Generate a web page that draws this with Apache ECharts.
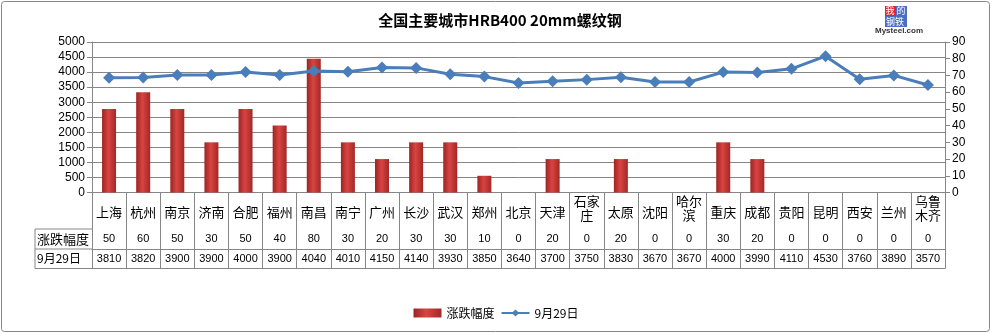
<!DOCTYPE html>
<html>
<head>
<meta charset="utf-8">
<script src="https://cdn.jsdelivr.net/npm/echarts@6/dist/echarts.min.js"></script>
<style>html,body{margin:0;padding:0;background:#fff}#c{width:992px;height:334px}</style>
</head>
<body>
<div id="c"></div>
<script>
var titleText = '全国主要城市HRB400 20mm螺纹钢';
var cities = ['上海','杭州','南京','济南','合肥','福州','南昌','南宁','广州','长沙','武汉','郑州','北京','天津','石家庄','太原','沈阳','哈尔滨','重庆','成都','贵阳','昆明','西安','兰州','乌鲁木齐'];
var changes = [50,60,50,30,50,40,80,30,20,30,30,10,0,20,0,20,0,0,30,20,0,0,0,0,0];
var prices = [3810,3820,3900,3900,4000,3900,4040,4010,4150,4140,3930,3850,3640,3700,3750,3830,3670,3670,4000,3990,4110,4530,3760,3890,3570];
var seriesNames = ['涨跌幅度','9月29日'];
var leftTicks = {min:0, max:5000, interval:500};
var rightTicks = {min:0, max:90, interval:10};

var gridCol = '#868686';
var numFont = 'Liberation Sans';
var cjk = 'Noto Sans CJK SC';

function cityLabel(v){
  if (v.length <= 2) return '{s|' + v + '}';
  var parts = [];
  for (var i = 0; i < v.length; i += 2) parts.push('{t|' + v.slice(i, i+2) + '}');
  return parts.join('\n');
}

var chart = echarts.init(document.getElementById('c'), null, {renderer:'canvas'});
var L = 92, R = 945, T = 42, B = 192.5;
chart.setOption({
  animation:false,
  title:{text:titleText, left:495, textAlign:'center', top:8,
    textStyle:{fontFamily:cjk, fontSize:15, fontWeight:'bold', color:'#000'}},
  legend:{bottom:10, left:'center', itemWidth:28, itemHeight:9, itemGap:6,
    textStyle:{fontFamily:cjk, fontSize:12, color:'#000'},
    data:[{name:seriesNames[0], icon:'rect'},{name:seriesNames[1]}]},
  grid:{left:L, right:992-R, top:T, bottom:334-B, containLabel:false},
  xAxis:[
    {type:'category', data:cities, position:'bottom',
      axisLine:{lineStyle:{color:gridCol, width:1}},
      axisTick:{show:true, length:76, lineStyle:{color:gridCol}},
      axisLabel:{interval:0, margin:2, verticalAlign:'top', formatter:cityLabel,
        rich:{s:{fontFamily:cjk, fontSize:13, lineHeight:35, color:'#000'},
              t:{fontFamily:cjk, fontSize:13, lineHeight:14, color:'#000'}}}},
    {type:'category', data:changes.map(String), position:'bottom', offset:36.5,
      axisLine:{lineStyle:{color:gridCol}}, axisTick:{show:false},
      axisLabel:{interval:0, margin:4, fontFamily:numFont, fontSize:11, lineHeight:12, color:'#000'}},
    {type:'category', data:prices.map(String), position:'bottom', offset:56.5,
      axisLine:{lineStyle:{color:gridCol}}, axisTick:{show:false},
      axisLabel:{interval:0, margin:4, fontFamily:numFont, fontSize:11, lineHeight:12, color:'#000'}},
    {type:'category', data:cities, position:'bottom', offset:76,
      axisLine:{lineStyle:{color:gridCol}}, axisTick:{show:false}, axisLabel:{show:false}}
  ],
  yAxis:[
    {type:'value', min:leftTicks.min, max:leftTicks.max, interval:leftTicks.interval, position:'left',
      axisLine:{show:true, lineStyle:{color:gridCol}},
      axisTick:{show:true, length:5, lineStyle:{color:gridCol}},
      splitLine:{lineStyle:{color:gridCol}},
      axisLabel:{margin:7, fontFamily:numFont, fontSize:12, color:'#000', formatter:function(v){return String(v);}}},
    {type:'value', min:rightTicks.min, max:rightTicks.max, interval:rightTicks.interval, position:'right',
      axisLine:{show:true, lineStyle:{color:gridCol}},
      axisTick:{show:true, length:5, lineStyle:{color:gridCol}},
      splitLine:{show:false},
      axisLabel:{margin:7, fontFamily:numFont, fontSize:12, color:'#000', formatter:function(v){return String(v);}}}
  ],
  series:[
    {name:seriesNames[0], type:'bar', xAxisIndex:0, yAxisIndex:1, data:changes, barWidth:14,
      itemStyle:{color:new echarts.graphic.LinearGradient(0,0,1,0,[
        {offset:0,color:'#9c2424'},{offset:0.45,color:'#d94441'},{offset:1,color:'#a22828'}])}},
    {name:seriesNames[1], type:'line', xAxisIndex:0, yAxisIndex:0, data:prices,
      symbol:'diamond', symbolSize:12, lineStyle:{color:'#4a7ebb', width:3},
      itemStyle:{color:'#4a7ebb'}}
  ],
  graphic:[
    {type:'rect', shape:{x:1.5, y:1.5, width:988, height:330, r:3}, style:{fill:'none', stroke:gridCol, lineWidth:1}},
    {type:'line', shape:{x1:35, y1:229, x2:L, y2:229}, style:{stroke:gridCol, lineWidth:1}},
    {type:'line', shape:{x1:35, y1:249, x2:L, y2:249}, style:{stroke:gridCol, lineWidth:1}},
    {type:'line', shape:{x1:35, y1:268.5, x2:L, y2:268.5}, style:{stroke:gridCol, lineWidth:1}},
    {type:'line', shape:{x1:35, y1:229, x2:35, y2:268.5}, style:{stroke:gridCol, lineWidth:1}},
    {type:'text', x:37, y:239, style:{text:seriesNames[0], fontFamily:cjk, fontSize:13, fill:'#000', textVerticalAlign:'middle'}},
    {type:'text', x:37, y:258.5, style:{text:seriesNames[1], fontFamily:cjk, fontSize:12, fill:'#000', textVerticalAlign:'middle'}},
    {type:'rect', shape:{x:885, y:6, width:11, height:10}, style:{fill:'#e0262b'}},
    {type:'rect', shape:{x:896, y:6, width:11, height:10}, style:{fill:'#4a6fc4'}},
    {type:'rect', shape:{x:885, y:16, width:22, height:11}, style:{fill:'#4a6fc4'}},
    {type:'text', x:885.5, y:11, style:{text:'我', fontFamily:cjk, fontSize:9, fill:'#fff', textVerticalAlign:'middle'}},
    {type:'text', x:896.5, y:11, style:{text:'的', fontFamily:cjk, fontSize:9, fill:'#fff', textVerticalAlign:'middle'}},
    {type:'text', x:886, y:21.5, style:{text:'钢铁', fontFamily:cjk, fontSize:9, fill:'#fff', textVerticalAlign:'middle'}},
    {type:'text', x:875, y:31, style:{text:'Mysteel.com', fontFamily:'Liberation Sans', fontSize:8, fontWeight:'bold', fill:'#333', textVerticalAlign:'middle'}}
  ]
});
</script>
</body>
</html>
